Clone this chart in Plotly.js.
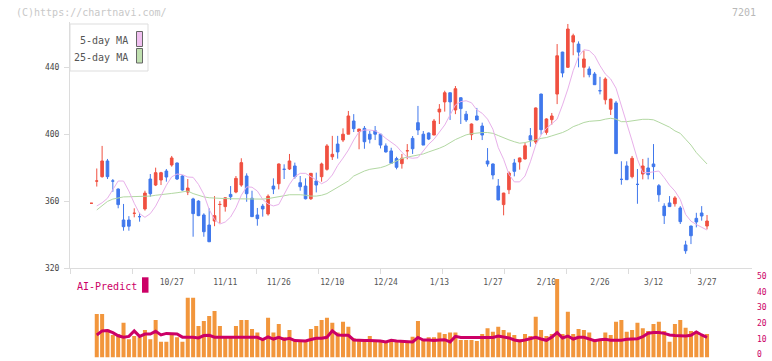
<!DOCTYPE html>
<html><head><meta charset="utf-8">
<script src="https://cdn.plot.ly/plotly-3.0.1.min.js"></script>
<style>html,body{margin:0;padding:0;background:#fff}#chart{width:772px;height:361px}</style>
</head><body><div id="chart"></div>
<script>
// ---- data (index 0 = first session shown) ----
const openP = [358.7,372,374.6,384,372,367.2,348.7,348.7,352.7,350.7,355.3,373.2,369.6,372.6,378,381.6,382.8,375,365.4,361.3,
360,351.7,345.7,348.1,358,356.7,364,365.4,369.6,375,361.7,351.7,357,352.3,369,370.4,379,379.2,381,371,
369,361.4,372,374.6,379,386.5,394.1,396.5,400,407.9,401.5,403.5,400,402,400,393,390,385.4,382.4,390.1,
397.5,406.9,400,400.7,399.5,413.3,419.3,424.8,414.5,421.8,412,399.7,410.9,404.9,384,382.2,369,357.9,366.8,382.8,
383.4,385.2,399.1,395.3,424,401.1,408.7,424,449.1,440,455.1,453.9,440,439,436,426,420.6,414.9,418.7,373,
381,374.6,370,376.2,379.8,382.2,369.2,357,358.9,358.4,355.9,333.8,345.1,349.7,352.9,345.1];
const highP = [358.7,379.5,393,385.2,373.2,367.6,358.3,351,355.7,353,366.2,376.2,380,377.5,379.2,387,383,375.4,373.2,362,
360.5,352.7,355.7,363,360,362.2,369,375,385.6,376.6,366.2,355.9,358.3,364,373.6,382.5,382,388.2,383,375,
373.6,376.8,377,383,394.1,399,399,403.5,413.9,412,403.1,404.9,402,404.9,400.2,394.5,391.9,386.5,388.2,394.1,
398.9,416.9,401.9,401,409.1,418,426,424.8,428.8,422,413.9,406.4,415.7,406.9,391.7,382.5,373.2,365,377.8,385.2,
386,394.7,403.7,416,424.2,409.5,412.7,453.9,449.3,465.9,460.1,455.5,450,440.5,437.2,434.3,434,421.2,419.9,383.8,
383.8,387,379.2,385.2,385.9,394.1,370.2,358.7,363,363,357,336.3,345.3,353,357,351.7];
const lowP = [358.7,368.7,374,373.2,365.6,355.7,342.3,342.3,350.3,347.7,354.3,362.6,369,369.6,371.6,380.6,372.6,366.2,363.6,338.7,
351,338.7,335.5,345,346.7,353.7,360.7,364.7,368.6,359.6,350.5,345.3,350.7,351.3,364.2,367,373.2,378.6,373.4,366.2,
361,360.7,365.2,371.6,378.2,384.6,385.4,395.3,400,401.3,391,391.3,394.5,396.5,391.5,389,382.2,379,379.4,385,
388.2,399.5,393.5,396.5,399.5,406.1,413.5,408.5,412,406.1,407.3,396.5,408.3,396.5,380.6,373,360.5,351.5,364.2,374.8,
378.8,384.8,392.5,394.1,399.7,399.7,405.7,418,434,439.6,447.2,440,434,434,429.5,423.8,417.8,411.5,388.4,369.8,
372.8,373.6,358.4,373,373,373,359.6,346.3,356.5,356.7,346.3,328.5,334.3,344.3,348.3,343.1];
const closeP = [358.7,372,384,374.6,372,357.9,344.7,345,352.7,350.7,364.8,364.4,377,377,374.4,385.8,373.2,366.6,367.8,352.5,
351.3,341.7,335.7,351.3,358,362,362.6,373.6,383,364.4,350.7,349.5,355.3,362.9,367.2,382.2,379,384,374.6,368.6,
361.4,376.6,369.6,382.2,393,388,389.4,400,410.9,403.3,403.1,395.5,397,400,393.5,389.4,382.6,380.2,385.6,390.1,
391.3,402.5,393.5,397.1,407.9,415,424.8,419.3,427.2,415.3,408.5,406.1,408.5,399.5,382.2,375.6,360.7,364.8,376.8,377.8,
385.8,393.1,396.5,415.7,402.7,409.1,410.9,446.9,436.6,462.9,458.9,449.1,445,435.6,429.6,426,433,421,388.4,373,
372.8,385.6,370,381,375.8,380.6,363.8,351.3,356.7,361.9,347.7,330.3,339.3,347.5,351.1,348.1];
const ma5 = [null,357.1,359.0,361.7,367.0,372,372,366,358.7,352.5,350.3,
352.5,357,363.5,369.5,374.5,376.2,375.8,374.4,374.2,370,
364,355,349,346.3,347.5,350.5,356,363.5,368.5,368.3,
366,361,358.3,357.1,358,364,370,374.6,376.6,376.6,
374.8,372.6,370.4,372,375.6,381.3,385.7,390.5,396.5,401.5,
402.5,402.5,402,400.2,397.5,395,392.9,389.2,386.2,385.6,
386,390,394,397,401,405.5,411.5,417.5,419.5,420,
418.8,414.5,412.5,409,403,392,385,376,371.5,371.5,
375,383.5,393.5,399.5,403.5,406,409,417.5,427,438,
446.5,450.5,450,447,441,436,433,427.5,417.5,406.5,
396,385,377,377,377.5,378,374,369.5,366,361,
352,348,346,344.5,342.7];
const ma25 = [null,354.7,357.5,359.8,361.2,362,362.5,362.6,362.6,362.6,362.8,
363,363.5,364,364.3,364.6,365,365.5,366,364.5,363.3,
362.5,362,361.7,361.7,361.5,361.4,361.3,361.2,361.1,361.1,
361.1,361.2,361.5,362.2,362.8,363.2,363.8,364,363.8,363.5,
363,363,363.5,364.5,366.5,368.5,370.5,372,375,376.5,
378,379,379.4,380,381,382.5,384.3,385.5,386.3,386.8,
387.4,388.2,389.4,390.4,391.6,393,395,396.8,398.2,399.6,
400.3,400.7,401,401,400.5,399.2,397.8,396.6,395.5,394.6,
395,395.6,396.6,397.5,398,399,400,401,402.5,404.5,
405.7,407,407.7,408,408.2,409,409.5,409,407.5,407.5,
408,408.5,408.9,408.9,408.6,407.2,405.8,404.2,402,400.5,
397,393.5,389,385.5,382.2];
const volume = [null,27.7,27.7,18.0,14.4,15.0,22.2,11.6,13.7,12.9,17.6,
11.6,23.9,10.1,10.1,15.0,12.9,10.1,38.1,38.1,20.1,
23.3,26.5,29.6,20.1,12.9,12.9,20.1,23.9,23.9,18.2,
15.9,11.2,25.4,15.9,21.4,12.9,17.6,11.2,11.2,11.2,
18.2,20.1,23.9,25.4,22.2,15.9,22.8,19.7,12.3,11.2,
11.2,13.7,11.2,11.2,9.5,11.2,11.2,10.1,10.1,13.3,
23.3,11.2,12.9,12.9,15.9,15.0,15.9,15.9,11.2,11.2,
11.2,10.6,15.0,18.6,16.5,19.7,17.6,15.9,14.4,11.6,
15.0,13.7,26.0,17.6,13.7,15.0,50,15.0,29.2,15.0,
18.2,17.6,15.9,11.2,11.2,15.9,14.4,22.8,23.9,16.5,
17.6,22.2,18.6,16.9,21.4,22.8,16.9,10.1,21.4,23.9,
19.0,16.9,15.9,13.7,15.0];
const aiPredict = [null,14.4,17.0,17.2,15.9,13.9,13.0,13.5,17.0,13.5,15.0,
15.0,16.7,14.4,15.4,15.2,15.0,13.0,13.0,13.0,12.5,
14.0,14.2,13.0,12.9,12.9,12.9,12.9,12.9,12.9,12.9,
12.9,11.4,13.2,11.8,12.9,11.6,12.3,10.8,10.6,10.6,
11.5,12.3,12.3,12.9,17.0,14.4,14.2,14.2,11.2,10.8,
10.8,10.8,10.8,10.5,10.0,11.0,10.6,10.5,10.2,10.0,
12.8,11.2,11.2,10.9,11.2,11.4,10.0,13.5,12.8,12.8,
12.8,12.8,12.8,12.8,12.8,13.7,13.2,12.5,11.2,10.6,
11.2,12.3,12.9,11.8,11.0,13.0,15.9,12.5,13.7,11.8,
12.9,12.9,12.0,10.8,11.4,11.6,11.1,11.1,11.1,11.6,
11.8,12.0,13.3,15.5,15.9,15.9,15.4,14.4,14.0,13.7,
13.7,14.2,16.3,14.4,12.9];
const labelIdx = [15,25,35,45,55,65,75,85,95,105,115];
const labelText = ['10/27','11/11','11/26','12/10','12/24','1/13','1/27','2/10','2/26','3/12','3/27'];
const priceTicks = [320,360,400,440];
const volTicks = [0,10,20,30,40,50];

const idx = closeP.map((_, i) => i);
const RED = '#f05040', BLUE = '#4078ec';
const XR = [-4, 123.4];
const MONO = 'DejaVu Sans Mono, Liberation Mono, monospace';

const traces = [
  {type:'scatter', mode:'lines', x:idx, y:ma25, xaxis:'x', yaxis:'y', line:{color:'rgb(178,216,162)', width:1}, hoverinfo:'skip', showlegend:false},
  {type:'scatter', mode:'lines', x:idx, y:ma5, xaxis:'x', yaxis:'y', line:{color:'rgb(232,176,234)', width:1}, hoverinfo:'skip', showlegend:false},
  {type:'candlestick', x:idx, open:openP, high:highP, low:lowP, close:closeP, xaxis:'x', yaxis:'y',
   increasing:{line:{color:RED, width:1}, fillcolor:RED},
   decreasing:{line:{color:BLUE, width:1}, fillcolor:BLUE},
   whiskerwidth:0, hoverinfo:'skip', showlegend:false},
  {type:'bar', x:idx, y:volume, xaxis:'x2', yaxis:'y2', width:0.75, marker:{color:'#f2963c', line:{width:0}}, hoverinfo:'skip', showlegend:false},
  {type:'scatter', mode:'lines', x:idx, y:aiPredict, xaxis:'x2', yaxis:'y2', line:{color:'#cc0066', width:3}, hoverinfo:'skip', showlegend:false},
  {type:'scatter', mode:'lines', x:[null], y:[null], xaxis:'x3', yaxis:'y', hoverinfo:'skip', showlegend:false}
];

const T = 22, H = 337;
const f = y => 1 - (y - T) / H;      // pixel row -> paper fraction
const fx = x => (x - 70) / 682;      // pixel col -> paper fraction

const layout = {
  width:772, height:361,
  margin:{l:70, r:20, t:T, b:2, pad:0},
  paper_bgcolor:'#fff', plot_bgcolor:'#fff',
  showlegend:false, hovermode:false,
  font:{family:MONO, color:'#555', size:8},
  xaxis:{domain:[0,1], anchor:'y', range:XR, rangeslider:{visible:false},
    tickmode:'linear', tick0:7.603, dtick:11.582, ticks:'outside', ticklen:5, tickcolor:'#dcdcdc', tickwidth:1,
    showticklabels:false, showline:true, linecolor:'#dcdcdc', linewidth:1, showgrid:false, zeroline:false},
  xaxis3:{overlaying:'x', anchor:'y', range:XR, tickmode:'array', tickvals:labelIdx, ticktext:labelText,
    ticks:'', showline:false, showgrid:false, zeroline:false, ticklabelstandoff:8,
    tickfont:{family:MONO, size:8, color:'#555'}},
  yaxis:{domain:[f(268),1], anchor:'x', range:[320, 320 + (268 - T) / 1.6725],
    tickmode:'array', tickvals:priceTicks, ticks:'outside', ticklen:5, tickcolor:'#dcdcdc',
    showline:true, linecolor:'#dcdcdc', linewidth:1, showgrid:false, zeroline:false, ticklabelstandoff:3,
    tickfont:{family:MONO, size:8, color:'#444'}},
  xaxis2:{domain:[0,1], anchor:'y2', range:XR, visible:false},
  yaxis2:{domain:[f(357.6), f(279)], anchor:'x2', side:'right', range:[0,50],
    tickmode:'array', tickvals:volTicks, ticks:'', showline:false, showgrid:false, zeroline:false, ticklabelstandoff:4,
    ticklabeloverflow:'allow', ticklabelshift:-3,
    tickfont:{family:MONO, size:8, color:'#cc0066'}},
  shapes:[
    {type:'rect', xref:'paper', yref:'paper', x0:fx(70), x1:fx(148), y0:f(71), y1:f(24), fillcolor:'#fff', line:{color:'#dddddd', width:1}, layer:'above'},
    {type:'rect', xref:'paper', yref:'paper', x0:fx(136.5), x1:fx(142.5), y0:f(46.5), y1:f(31.5), fillcolor:'#f0c0f0', line:{color:'#666', width:1}, layer:'above'},
    {type:'rect', xref:'paper', yref:'paper', x0:fx(136.5), x1:fx(142.5), y0:f(63), y1:f(48.5), fillcolor:'#c0e0b0', line:{color:'#666', width:1}, layer:'above'},
    {type:'rect', xref:'paper', yref:'paper', x0:fx(142), x1:fx(148.5), y0:f(292.7), y1:f(277.3), fillcolor:'#cc0066', line:{width:0}, layer:'above'}
  ],
  annotations:[
    {xref:'paper', yref:'paper', x:fx(14), y:f(12), xanchor:'left', yanchor:'middle', showarrow:false,
     text:'(C)https://chartnavi.com/', font:{family:MONO, size:10, color:'#c8c8c8'}},
    {xref:'paper', yref:'paper', x:fx(758), y:f(12), xanchor:'right', yanchor:'middle', showarrow:false,
     text:'7201', font:{family:MONO, size:10, color:'#b8b8b8'}},
    {xref:'paper', yref:'paper', x:fx(130), y:f(41), xanchor:'right', yanchor:'middle', showarrow:false,
     text:'5-day MA', font:{family:MONO, size:10, color:'#555'}},
    {xref:'paper', yref:'paper', x:fx(130), y:f(57), xanchor:'right', yanchor:'middle', showarrow:false,
     text:'25-day MA', font:{family:MONO, size:10, color:'#555'}},
    {xref:'paper', yref:'paper', x:fx(75), y:f(286), xanchor:'left', yanchor:'middle', showarrow:false,
     text:'AI-Predict', font:{family:MONO, size:10, color:'#cc0066'}}
  ]
};

Plotly.newPlot('chart', traces, layout, {staticPlot:true, displayModeBar:false});
</script>
</body></html>
